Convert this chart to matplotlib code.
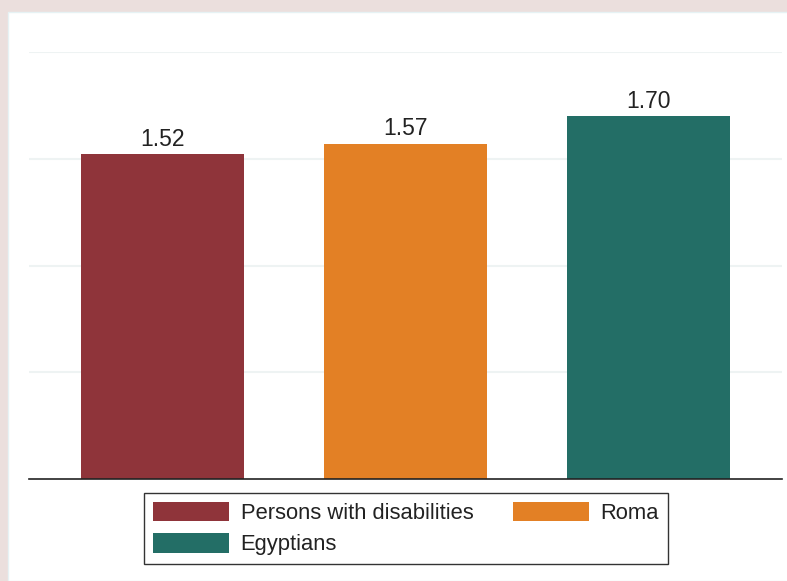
import matplotlib.pyplot as plt
from matplotlib.patches import Patch, Rectangle

plt.rcParams['font.family'] = ['Liberation Sans', 'DejaVu Sans']

groups = ['Persons with disabilities', 'Roma', 'Egyptians']
values = [1.52, 1.57, 1.70]
colors = ['#8f343a', '#e38025', '#236e66']

fig = plt.figure(figsize=(7.87, 5.81), dpi=100)
fig.patch.set_facecolor('#ebdfdd')
# white panel behind the chart
fig.patches.append(Rectangle((8 / 787, 0), 1, 1 - 12 / 581, transform=fig.transFigure,
                             facecolor='white', edgecolor='#e6f2f4', linewidth=1, zorder=-10))

ax = fig.add_axes([29 / 787, 1 - 479 / 581, 753 / 787, 427 / 581])
ax.set_facecolor('none')
x = range(len(groups))
bars = ax.bar(x, values, width=0.67, color=colors, zorder=2)
for b, v in zip(bars, values):
    ax.annotate(f'{v:.2f}', (b.get_x() + b.get_width() / 2, v), xytext=(0, 2.5),
                textcoords='offset points', ha='center', va='bottom',
                fontsize=16.5, color='#222222')

ax.set_xlim(-0.55, 2.55)
ax.set_ylim(0, 2)
ax.set_yticks([0.5, 1.0, 1.5, 2.0])
ax.grid(axis='y', color='#eef3f3', linewidth=1.5, zorder=0)
ax.tick_params(left=False, bottom=False, labelleft=False, labelbottom=False)
for s in ['top', 'right', 'left']:
    ax.spines[s].set_visible(False)
ax.spines['bottom'].set_color('#222222')
ax.spines['bottom'].set_linewidth(1.2)

# legend fills column-wise, so reorder to get two entries on the first row
order = [0, 2, 1]
handles = [Patch(facecolor=colors[i]) for i in order]
labels = [groups[i] for i in order]
leg = fig.legend(handles, labels, ncol=2, loc='center',
                 bbox_to_anchor=(406 / 787, 1 - 528.5 / 581),
                 fontsize=15.8, handlelength=3.45, handleheight=1.0,
                 handletextpad=0.55, columnspacing=1.8, labelspacing=0.41,
                 borderpad=0.4, fancybox=False, framealpha=1)
leg.get_frame().set_edgecolor('#333333')
leg.get_frame().set_linewidth(1.0)
for t in leg.get_texts():
    t.set_color('#222222')

fig.savefig('out.png', dpi=100, facecolor=fig.get_facecolor())
